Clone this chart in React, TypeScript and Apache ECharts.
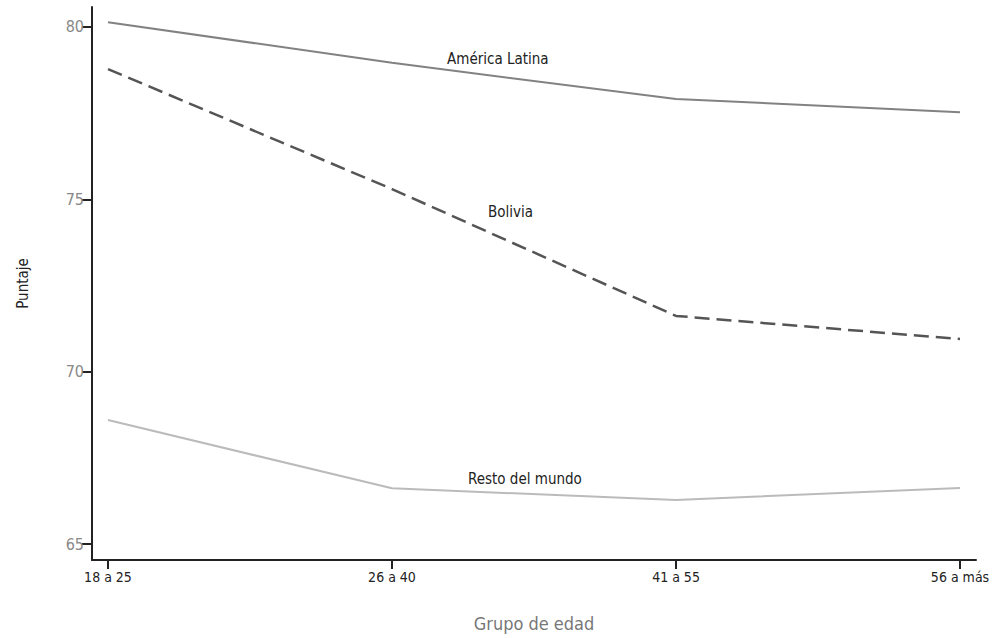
import React, { useEffect, useRef } from "react";
import * as echarts from "echarts";

const categories = ["18 a 25", "26 a 40", "41 a 55", "56 a más"];
const americaLatina = [80.14, 78.96, 77.91, 77.53];
const bolivia = [78.78, 75.3, 71.62, 70.95];
const restoMundo = [68.6, 66.62, 66.28, 66.63];
const yTicks = [65, 70, 75, 80];
const xTicks = [0, 1, 2, 3];

const FONT = "'Liberation Sans Narrow', 'DejaVu Sans Condensed', 'Roboto Condensed', sans-serif";

export default function App() {
  const ref = useRef<HTMLDivElement>(null);
  useEffect(() => {
    document.body.style.margin = "0";
    if (!ref.current) return;
    const chart = echarts.init(ref.current, null, { renderer: "svg" });
    const toPts = (arr: number[]) => arr.map((v, i) => [i, v]);
    chart.setOption({
      animation: false,
      backgroundColor: "#ffffff",
      grid: { left: 92, right: 17, top: 7, bottom: 78, containLabel: false },
      xAxis: {
        type: "value",
        min: -0.0563,
        max: 3.0563,
        name: "Grupo de edad",
        nameLocation: "middle",
        nameGap: 54,
        nameTextStyle: { fontFamily: FONT, fontSize: 18, color: "#777777" },
        axisLine: { show: true, onZero: false, lineStyle: { color: "#222222", width: 2 } },
        axisTick: {
          show: true,
          length: 9,
          lineStyle: { color: "#222222", width: 2 },
          customValues: xTicks,
        },
        axisLabel: {
          margin: 10,
          fontFamily: FONT,
          fontSize: 14,
          color: "#222222",
          customValues: xTicks,
          formatter: (v: number) => categories[Math.round(v)] ?? "",
        },
        splitLine: { show: false },
      },
      yAxis: {
        type: "value",
        min: 64.54,
        max: 80.58,
        name: "Puntaje",
        nameLocation: "middle",
        nameGap: 62,
        nameRotate: 90,
        nameTextStyle: { fontFamily: FONT, fontSize: 15, color: "#222222" },
        axisLine: { show: true, onZero: false, lineStyle: { color: "#222222", width: 2 } },
        axisTick: {
          show: true,
          length: 10,
          lineStyle: { color: "#222222", width: 2 },
          customValues: yTicks,
        },
        axisLabel: {
          margin: 8,
          fontFamily: FONT,
          fontSize: 16,
          color: "#888888",
          customValues: yTicks,
        },
        splitLine: { show: false },
      },
      series: [
        {
          name: "América Latina",
          type: "line",
          data: toPts(americaLatina),
          showSymbol: false,
          lineStyle: { color: "#828282", width: 2 },
        },
        {
          name: "Bolivia",
          type: "line",
          data: toPts(bolivia),
          showSymbol: false,
          lineStyle: { color: "#555555", width: 2.5, type: [15, 7] },
        },
        {
          name: "Resto del mundo",
          type: "line",
          data: toPts(restoMundo),
          showSymbol: false,
          lineStyle: { color: "#bbbbbb", width: 2 },
        },
      ],
      graphic: [
        {
          type: "text",
          left: 447,
          top: 51,
          style: { text: "América Latina", font: `15px ${FONT}`, fill: "#222222" },
        },
        {
          type: "text",
          left: 488,
          top: 204,
          style: { text: "Bolivia", font: `15px ${FONT}`, fill: "#222222" },
        },
        {
          type: "text",
          left: 468,
          top: 471,
          style: { text: "Resto del mundo", font: `15px ${FONT}`, fill: "#222222" },
        },
      ],
    });
    return () => chart.dispose();
  }, []);
  return (
    <div
      ref={ref}
      style={{ position: "absolute", left: 0, top: 0, width: 993, height: 638 }}
    />
  );
}
